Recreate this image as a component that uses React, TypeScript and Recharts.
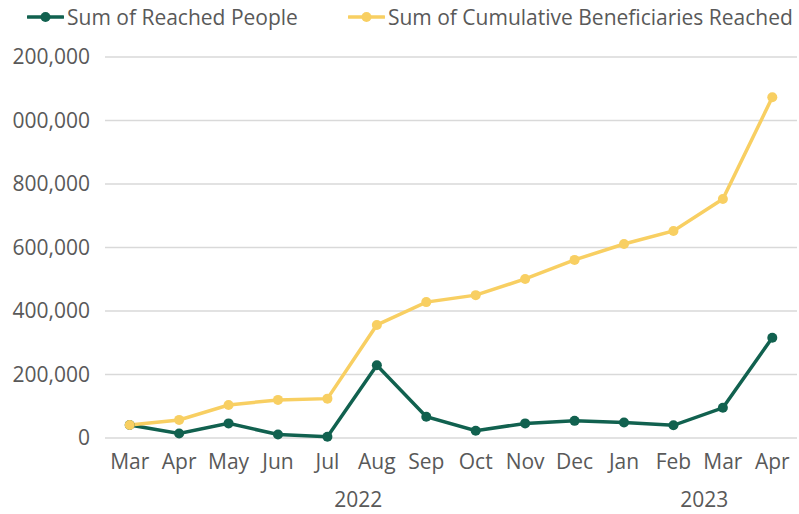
import React from 'react';
import { LineChart, Line, XAxis, YAxis, CartesianGrid, Legend } from 'recharts';

const months = ['Mar', 'Apr', 'May', 'Jun', 'Jul', 'Aug', 'Sep', 'Oct', 'Nov', 'Dec', 'Jan', 'Feb', 'Mar', 'Apr'];
const monthYear = ['2022', '2022', '2022', '2022', '2022', '2022', '2022', '2022', '2022', '2022', '2023', '2023', '2023', '2023'];
const reachedPeople = [41000, 14000, 46000, 11000, 4000, 229000, 67000, 23000, 46000, 54000, 49000, 40000, 95000, 316000];
const cumulativeReached = [41000, 57000, 104000, 120000, 124000, 356000, 428000, 450000, 501000, 561000, 611000, 652000, 753000, 1073000];
const yTicks = [0, 200000, 400000, 600000, 800000, 1000000, 1200000];

const GREEN = '#11614f';
const YELLOW = '#f8cf62';
const TEXT = '#595959';
const FONT = '"Open Sans", sans-serif';
const FS = 21;

const series = [
    { key: 'reached', name: 'Sum of Reached People', color: GREEN },
    { key: 'cumulative', name: 'Sum of Cumulative Beneficiaries Reached', color: YELLOW },
];

const data = months.map((m, i) => ({ idx: i, month: m, reached: reachedPeople[i], cumulative: cumulativeReached[i] }));

// center of each year group, in category index units
const years = Array.from(new Set(monthYear));
const yearTicks = years.map((y) => {
    const idxs = monthYear.map((v, i) => (v === y ? i : -1)).filter((i) => i >= 0);
    return (idxs[0] + idxs[idxs.length - 1]) / 2;
});

function LegendContent() {
    return (
        <div style={{ display: 'flex', alignItems: 'center', fontFamily: FONT, fontSize: FS, color: TEXT, paddingLeft: 27, whiteSpace: 'nowrap' }}>
            {series.map((s) => (
                <span key={s.key} style={{ display: 'flex', alignItems: 'center', marginRight: 50 }}>
                    <svg width={37} height={12} style={{ marginRight: 3 }}>
                        <line x1={1} y1={6} x2={36} y2={6} stroke={s.color} strokeWidth={3.5} strokeLinecap="round" />
                        <circle cx={18.5} cy={6} r={5} fill={s.color} />
                    </svg>
                    {s.name}
                </span>
            ))}
        </div>
    );
}

export default function App() {
    return (
        <div style={{ position: 'absolute', left: 12, top: 0, width: 787, height: 514, overflow: 'hidden', background: '#fff' }}>
            <div style={{ position: 'absolute', left: -12, top: 0 }}>
                <LineChart width={799} height={514} data={data} margin={{ top: 21, right: 2, bottom: 16, left: 0 }}>
                    <CartesianGrid vertical={false} stroke="#d9d9d9" strokeWidth={1.5} />
                    <XAxis dataKey="month" xAxisId="m" axisLine={false} tickLine={false} tickSize={0} tickMargin={16} height={30}
                        padding={{ left: 24.7, right: 24.7 }} interval={0} allowDuplicatedCategory
                        tick={{ fontSize: FS, fill: TEXT, fontFamily: FONT }} />
                    <XAxis dataKey="idx" xAxisId="y" type="number" domain={[-0.5, months.length - 0.5]} ticks={yearTicks}
                        tickFormatter={(v) => years[yearTicks.indexOf(v)]} axisLine={false} tickLine={false} tickSize={0}
                        tickMargin={24} height={30} tick={{ fontSize: FS, fill: TEXT, fontFamily: FONT, dx: 6 }} />
                    <YAxis domain={[0, 1200000]} ticks={yTicks} axisLine={false} tickLine={false} tickSize={0} tickMargin={15} width={105}
                        tickFormatter={(v) => v.toLocaleString('en-US')} tick={{ fontSize: FS, fill: TEXT, fontFamily: FONT }} />
                    <Legend verticalAlign="top" height={36} wrapperStyle={{ top: 3, left: 0 }} content={<LegendContent />} />
                    {series.map((s) => (
                        <Line key={s.key} xAxisId="m" dataKey={s.key} name={s.name} stroke={s.color} strokeWidth={3.5}
                            dot={{ r: 5, fill: s.color, stroke: s.color, strokeWidth: 0 }} isAnimationActive={false} />
                    ))}
                </LineChart>
            </div>
        </div>
    );
}
